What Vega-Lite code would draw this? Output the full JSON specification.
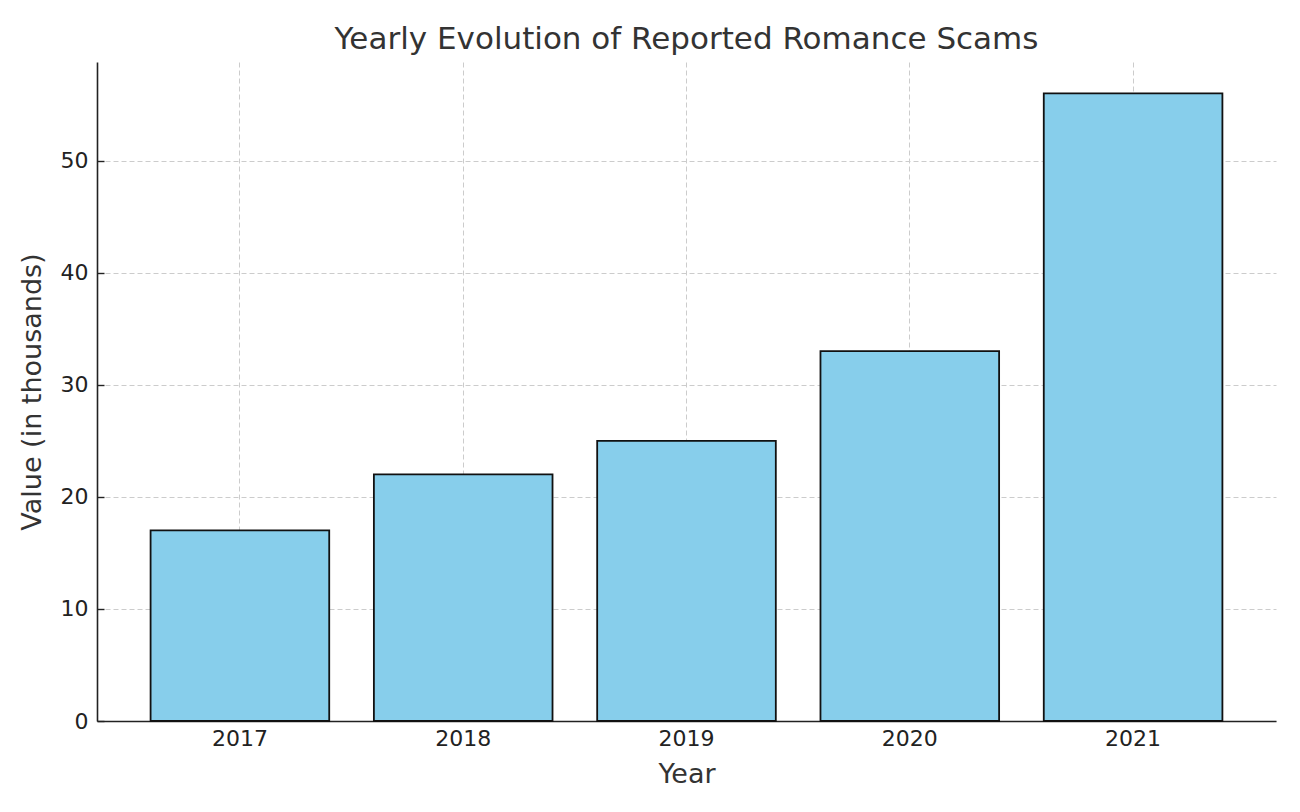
{
  "$schema": "https://vega.github.io/schema/vega-lite/v6.json",
  "autosize": "none",
  "width": 1179,
  "height": 659,
  "padding": {"left": 97, "top": 62, "right": 24, "bottom": 91},
  "background": "white",
  "config": {
    "view": {"stroke": null},
    "font": "DejaVu Sans",
    "axis": {
      "domainColor": "#222222",
      "domainWidth": 1.6,
      "tickColor": "#222222",
      "tickWidth": 1.4,
      "labelFont": "DejaVu Sans",
      "labelFontSize": 22,
      "labelColor": "#222222",
      "titleFont": "DejaVu Sans",
      "titleFontSize": 27,
      "titleFontWeight": "normal",
      "titleColor": "#333333",
      "gridColor": "#cccccc",
      "gridDash": [5, 3],
      "gridWidth": 1
    }
  },
  "title": {
    "text": "Yearly Evolution of Reported Romance Scams",
    "fontSize": 31,
    "fontWeight": "normal",
    "font": "DejaVu Sans",
    "color": "#333333",
    "anchor": "middle",
    "baseline": "alphabetic",
    "offset": -18
  },
  "data": {
    "values": [
      {"Year": "2017", "Value": 17},
      {"Year": "2018", "Value": 22},
      {"Year": "2019", "Value": 25},
      {"Year": "2020", "Value": 33},
      {"Year": "2021", "Value": 56}
    ]
  },
  "mark": {"type": "bar", "fill": "#87CEEB", "stroke": "#111111", "strokeWidth": 1.8},
  "encoding": {
    "x": {
      "field": "Year",
      "type": "ordinal",
      "scale": {"paddingInner": 0.2, "paddingOuter": 0.24},
      "axis": {
        "title": "Year",
        "labelAngle": 0,
        "grid": true,
        "bandPosition": 0.5,
        "tickSize": -7,
        "labelPadding": 14,
        "labelBaseline": "top",
        "titleBaseline": "alphabetic",
        "titleY": 61
      }
    },
    "y": {
      "field": "Value",
      "type": "quantitative",
      "scale": {"domain": [0, 58.8], "nice": false},
      "axis": {
        "title": "Value (in thousands)",
        "values": [0, 10, 20, 30, 40, 50],
        "grid": true,
        "tickSize": -7,
        "labelPadding": 16,
        "titleAngle": -90,
        "titleBaseline": "alphabetic",
        "titleX": -57,
        "titleY": 329.5,
        "titleAlign": "center"
      }
    }
  }
}
